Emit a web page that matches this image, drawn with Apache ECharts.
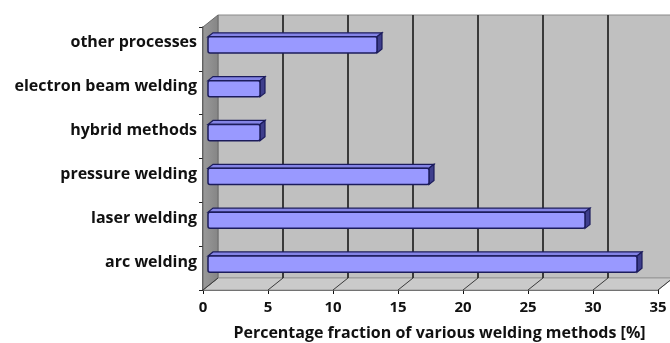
<!DOCTYPE html>
<html>
<head>
<meta charset="utf-8">
<script src="https://cdn.jsdelivr.net/npm/echarts@6/dist/echarts.min.js"></script>
<style>
  html, body { margin: 0; padding: 0; background: #ffffff; }
  #chart { width: 670px; height: 343px; }
</style>
</head>
<body>
<div id="chart"></div>
<script>
// Welding process shares, listed bottom to top
const categories = ['arc welding', 'laser welding', 'pressure welding', 'hybrid methods', 'electron beam welding', 'other processes'];
const shares = [33, 29, 17, 4, 4, 13];
const tickValues = [0, 5, 10, 15, 20, 25, 30, 35];
const axisTitle = 'Percentage fraction of various welding methods [%]';

// Depth of the pseudo-3D box (pixels, right / up)
const DX = 15, DY = -12;
const FONT = '"Open Sans", "Noto Sans", sans-serif';

const chart = echarts.init(document.getElementById('chart'), null, { renderer: 'canvas' });

// Back wall, side wall, floor and gridlines of the 3D frame
function renderFrame(params, api) {
  const cs = params.coordSys;
  const x0 = cs.x, x1 = cs.x + cs.width, y0 = cs.y, y1 = cs.y + cs.height;
  const children = [];
  // back wall
  children.push({ type: 'rect', shape: { x: x0 + DX, y: y0 + DY, width: cs.width, height: cs.height },
    style: { fill: '#c0c0c0', stroke: '#8a8a8a', lineWidth: 1 } });
  // floor
  children.push({ type: 'polygon', shape: { points: [[x0, y1], [x0 + DX, y1 + DY], [x1 + DX, y1 + DY], [x1, y1]] },
    style: { fill: '#cacaca', stroke: '#9a9a9a', lineWidth: 1 } });
  // left wall
  children.push({ type: 'polygon', shape: { points: [[x0, y0], [x0 + DX, y0 + DY], [x0 + DX, y1 + DY], [x0, y1]] },
    style: { fill: new echarts.graphic.LinearGradient(0, 0, 1, 0, [{ offset: 0, color: '#9a9a9a' }, { offset: 1, color: '#858585' }]),
      stroke: '#6a6a6a', lineWidth: 1 } });
  // gridlines on the back wall and across the floor
  tickValues.forEach(function (t) {
    const px = api.coord([t, 0])[0];
    if (t > 0) {
      children.push({ type: 'line', shape: { x1: px + DX, y1: y0 + DY, x2: px + DX, y2: y1 + DY },
        style: { stroke: '#3a3a3a', lineWidth: 2 } });
    }
    children.push({ type: 'line', shape: { x1: px, y1: y1, x2: px + DX, y2: y1 + DY },
      style: { stroke: '#3a3a3a', lineWidth: 1 } });
  });
  return { type: 'group', children: children };
}

// Each bar: front face, top face and right end face
function renderBar(params, api) {
  const v = api.value(0), cat = api.value(1);
  const p0 = api.coord([0, cat]);
  const p1 = api.coord([v, cat]);
  const band = api.size([0, 1])[1];
  const h = band * 0.37;
  const ox = DX / 3, oy = DY / 3;
  const fx0 = p0[0] + ox, fx1 = p1[0] + ox, cy = p0[1] + oy;
  const top = cy - h / 2, bot = cy + h / 2;
  const line = '#1c1c5c';
  return {
    type: 'group',
    children: [
      { type: 'polygon', shape: { points: [[fx0, top], [fx0 + ox, top + oy], [fx1 + ox, top + oy], [fx1, top]] },
        style: { fill: '#8484e6', stroke: line, lineWidth: 1.2 } },
      { type: 'polygon', shape: { points: [[fx1, top], [fx1 + ox, top + oy], [fx1 + ox, bot + oy], [fx1, bot]] },
        style: { fill: '#3e3e8c', stroke: line, lineWidth: 1.2 } },
      { type: 'rect', shape: { x: fx0, y: top, width: fx1 - fx0, height: h, r: 2 },
        style: { fill: '#9999ff', stroke: line, lineWidth: 1.5 } }
    ]
  };
}

chart.setOption({
  animation: false,
  backgroundColor: '#ffffff',
  grid: { left: 203, right: 12, top: 27, bottom: 53, containLabel: false, outerBoundsMode: 'none' },
  xAxis: {
    type: 'value', min: 0, max: 35, interval: 5,
    name: axisTitle, nameLocation: 'middle', nameGap: 35,
    nameTextStyle: { fontFamily: FONT, fontWeight: 'bold', fontSize: 16, color: '#111', padding: [0, 0, 0, 18] },
    axisLine: { show: true, lineStyle: { color: '#111', width: 1.5 } },
    axisTick: { show: true, length: 4, lineStyle: { color: '#111' } },
    axisLabel: { fontFamily: FONT, fontWeight: 'bold', fontSize: 15, color: '#111', margin: 10 },
    splitLine: { show: false }
  },
  yAxis: {
    type: 'category', data: categories,
    axisLine: { show: true, lineStyle: { color: '#222', width: 1.5 } },
    axisTick: { show: true, length: 4, lineStyle: { color: '#222' } },
    axisLabel: { fontFamily: FONT, fontWeight: 'bold', fontSize: 16, color: '#111', margin: 6,
      verticalAlign: 'bottom', lineHeight: 12 },
    splitLine: { show: false }
  },
  series: [
    { type: 'custom', name: 'frame', coordinateSystem: 'cartesian2d', clip: false, z: 1,
      renderItem: renderFrame, data: [[0, 0]], encode: { x: 0, y: 1 }, silent: true },
    { type: 'custom', name: 'share', coordinateSystem: 'cartesian2d', clip: false, z: 2,
      renderItem: renderBar, data: shares.map(function (v, i) { return [v, i]; }), encode: { x: 0, y: 1 } }
  ]
});
</script>
</body>
</html>
